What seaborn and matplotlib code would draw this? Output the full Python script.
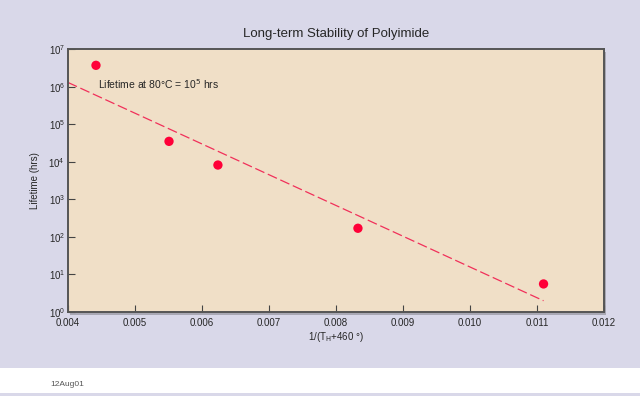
import numpy as np
import pandas as pd
import matplotlib
matplotlib.use("Agg")
import matplotlib.pyplot as plt
import seaborn as sns
from matplotlib.patches import Rectangle
from matplotlib.ticker import LogFormatterMathtext

# data
inv_temp = [0.00442, 0.00551, 0.00624, 0.00833, 0.01110]
lifetime = [3.7e6, 3.5e4, 8.2e3, 1.7e2, 5.6]
fit_x = [0.0040, 0.0111]
fit_y = [1.3e6, 2.0]
x_ticks = [0.004, 0.005, 0.006, 0.007, 0.008, 0.009, 0.010, 0.011, 0.012]
y_ticks = [1e0, 1e1, 1e2, 1e3, 1e4, 1e5, 1e6, 1e7]

df = pd.DataFrame({"x": inv_temp, "y": lifetime})
fit = pd.DataFrame({"x": fit_x, "y": fit_y})

sns.set_theme(style="ticks")
plt.rcParams["font.family"] = ["Liberation Sans", "DejaVu Sans"]

fig = plt.figure(figsize=(6.4, 3.96), dpi=100)
fig.patch.set_facecolor("#d9d8e9")

# white footer strip
fig.patches.append(Rectangle((0, 0.008), 1, 0.063, transform=fig.transFigure,
                             facecolor="white", edgecolor="none", zorder=0))
fig.text(0.078, 0.025, "12Aug01", fontsize=6, color="#555555")

ax_pos = [0.106, 0.212, 0.8375, 0.664]
# drop shadow behind the plot area
shadow = fig.add_axes([ax_pos[0] + 0.004, ax_pos[1] - 0.008, ax_pos[2], ax_pos[3]])
shadow.set_facecolor("#a9a8b4")
shadow.set_xticks([])
shadow.set_yticks([])
for s in shadow.spines.values():
    s.set_visible(False)
shadow.set_zorder(0)

ax = fig.add_axes(ax_pos)
ax.set_zorder(1)
ax.set_facecolor("#f0dfc7")

sns.lineplot(data=fit, x="x", y="y", ax=ax, color="#f0305a", lw=0.9,
             linestyle=(0, (8, 3)), zorder=2)
sns.scatterplot(data=df, x="x", y="y", ax=ax, color="#ff0038", s=45,
                edgecolor="none", zorder=3)

ax.set_yscale("log")
ax.set_xlim(0.004, 0.012)
ax.set_ylim(1, 1e7)
ax.set_xticks(x_ticks)
ax.set_xticklabels([f"{t:.3f}" for t in x_ticks])
ax.set_yticks(y_ticks)
ax.yaxis.set_major_formatter(LogFormatterMathtext())
ax.minorticks_off()
ax.tick_params(direction="in", length=5, width=0.8, color="#444444",
               labelsize=7, pad=2)
ax.tick_params(axis="x", pad=4)

for s in ax.spines.values():
    s.set_color("#555555")
    s.set_linewidth(1.4)

ax.set_title("Long-term Stability of Polyimide", fontsize=9.5, pad=9)
ax.set_xlabel(r"1/(T$_\mathrm{H}$+460 °)", fontsize=7, labelpad=2)
ax.set_ylabel("Lifetime (hrs)", fontsize=7, labelpad=6)
ax.text(0.00445, 8.5e5, r"Lifetime at 80°C = 10$^5$ hrs", fontsize=7.5,
        va="baseline")

fig.savefig("out.png", dpi=100, facecolor=fig.get_facecolor())
